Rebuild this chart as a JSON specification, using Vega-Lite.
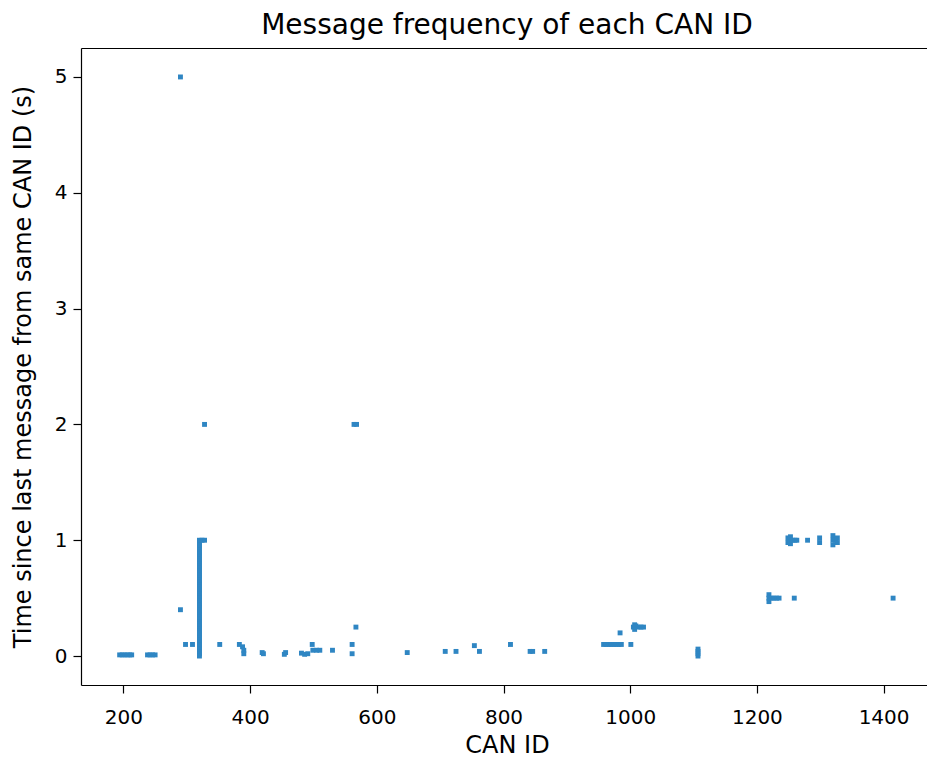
{
  "$schema": "https://vega.github.io/schema/vega-lite/v6.json",
  "autosize": {"type": "none"},
  "padding": {"left": 81, "top": 48, "right": 0, "bottom": 74},
  "width": 852,
  "height": 637,
  "title": {
    "text": "Message frequency of each CAN ID",
    "fontSize": 28,
    "fontWeight": "normal",
    "font": "DejaVu Sans",
    "color": "#000000",
    "anchor": "middle",
    "offset": 8
  },
  "config": {
    "font": "DejaVu Sans",
    "view": {"stroke": null},
    "axis": {
      "domain": true,
      "domainColor": "#000000",
      "domainWidth": 1.2,
      "grid": false,
      "tickColor": "#000000",
      "tickSize": 8,
      "tickWidth": 1.2,
      "labelColor": "#000000",
      "labelFont": "DejaVu Sans",
      "labelFontSize": 20,
      "titleColor": "#000000",
      "titleFont": "DejaVu Sans",
      "titleFontSize": 24,
      "titleFontWeight": "normal"
    }
  },
  "data": {
    "values": [
      {"id": 194, "dt": 0.01}, {"id": 198, "dt": 0.01}, {"id": 202, "dt": 0.01},
      {"id": 206, "dt": 0.01}, {"id": 210, "dt": 0.01}, {"id": 213, "dt": 0.01},
      {"id": 238, "dt": 0.01}, {"id": 242, "dt": 0.01}, {"id": 246, "dt": 0.01}, {"id": 250, "dt": 0.01},
      {"id": 290, "dt": 5.0},
      {"id": 290, "dt": 0.40},
      {"id": 298, "dt": 0.10}, {"id": 309, "dt": 0.10},
      {"id": 320, "dt": 0.0}, {"id": 320, "dt": 0.02}, {"id": 320, "dt": 0.04}, {"id": 320, "dt": 0.06},
      {"id": 320, "dt": 0.08}, {"id": 320, "dt": 0.10}, {"id": 320, "dt": 0.12}, {"id": 320, "dt": 0.14},
      {"id": 320, "dt": 0.16}, {"id": 320, "dt": 0.18}, {"id": 320, "dt": 0.20}, {"id": 320, "dt": 0.22},
      {"id": 320, "dt": 0.24}, {"id": 320, "dt": 0.26}, {"id": 320, "dt": 0.28}, {"id": 320, "dt": 0.30},
      {"id": 320, "dt": 0.32}, {"id": 320, "dt": 0.34}, {"id": 320, "dt": 0.36}, {"id": 320, "dt": 0.38},
      {"id": 320, "dt": 0.40}, {"id": 320, "dt": 0.42}, {"id": 320, "dt": 0.44}, {"id": 320, "dt": 0.46},
      {"id": 320, "dt": 0.48}, {"id": 320, "dt": 0.50}, {"id": 320, "dt": 0.52}, {"id": 320, "dt": 0.54},
      {"id": 320, "dt": 0.56}, {"id": 320, "dt": 0.58}, {"id": 320, "dt": 0.60}, {"id": 320, "dt": 0.62},
      {"id": 320, "dt": 0.64}, {"id": 320, "dt": 0.66}, {"id": 320, "dt": 0.68}, {"id": 320, "dt": 0.70},
      {"id": 320, "dt": 0.72}, {"id": 320, "dt": 0.74}, {"id": 320, "dt": 0.76}, {"id": 320, "dt": 0.78},
      {"id": 320, "dt": 0.80}, {"id": 320, "dt": 0.82}, {"id": 320, "dt": 0.84}, {"id": 320, "dt": 0.86},
      {"id": 320, "dt": 0.88}, {"id": 320, "dt": 0.90}, {"id": 320, "dt": 0.92}, {"id": 320, "dt": 0.94},
      {"id": 320, "dt": 0.96}, {"id": 320, "dt": 0.98}, {"id": 320, "dt": 1.0},
      {"id": 324, "dt": 1.0}, {"id": 328, "dt": 1.0},
      {"id": 328, "dt": 2.0},
      {"id": 352, "dt": 0.10},
      {"id": 383, "dt": 0.10}, {"id": 388, "dt": 0.08}, {"id": 390, "dt": 0.05}, {"id": 390, "dt": 0.02},
      {"id": 419, "dt": 0.03}, {"id": 421, "dt": 0.02},
      {"id": 454, "dt": 0.015}, {"id": 456, "dt": 0.03},
      {"id": 481, "dt": 0.025}, {"id": 486, "dt": 0.015}, {"id": 491, "dt": 0.02},
      {"id": 498, "dt": 0.10}, {"id": 499, "dt": 0.05}, {"id": 505, "dt": 0.05}, {"id": 510, "dt": 0.05},
      {"id": 530, "dt": 0.05},
      {"id": 561, "dt": 0.10}, {"id": 561, "dt": 0.02}, {"id": 567, "dt": 0.25},
      {"id": 564, "dt": 2.0}, {"id": 568, "dt": 2.0},
      {"id": 648, "dt": 0.03},
      {"id": 708, "dt": 0.04}, {"id": 725, "dt": 0.04},
      {"id": 754, "dt": 0.09}, {"id": 762, "dt": 0.04},
      {"id": 811, "dt": 0.10},
      {"id": 842, "dt": 0.04}, {"id": 846, "dt": 0.04},
      {"id": 865, "dt": 0.04},
      {"id": 958, "dt": 0.10}, {"id": 962, "dt": 0.10}, {"id": 966, "dt": 0.10}, {"id": 970, "dt": 0.10},
      {"id": 974, "dt": 0.10}, {"id": 978, "dt": 0.10}, {"id": 982, "dt": 0.10}, {"id": 986, "dt": 0.10},
      {"id": 984, "dt": 0.20},
      {"id": 1001, "dt": 0.10},
      {"id": 1005, "dt": 0.25}, {"id": 1009, "dt": 0.26}, {"id": 1013, "dt": 0.25}, {"id": 1017, "dt": 0.25},
      {"id": 1021, "dt": 0.25}, {"id": 1007, "dt": 0.27}, {"id": 1007, "dt": 0.23},
      {"id": 1107, "dt": 0.0}, {"id": 1107, "dt": 0.02}, {"id": 1107, "dt": 0.04}, {"id": 1107, "dt": 0.06},
      {"id": 1219, "dt": 0.47}, {"id": 1219, "dt": 0.5}, {"id": 1219, "dt": 0.53}, {"id": 1223, "dt": 0.5},
      {"id": 1227, "dt": 0.5}, {"id": 1231, "dt": 0.5}, {"id": 1235, "dt": 0.5},
      {"id": 1259, "dt": 0.5},
      {"id": 1415, "dt": 0.5},
      {"id": 1249, "dt": 0.98}, {"id": 1249, "dt": 1.02}, {"id": 1250, "dt": 1.0}, {"id": 1253, "dt": 1.03},
      {"id": 1253, "dt": 0.97}, {"id": 1256, "dt": 1.0}, {"id": 1260, "dt": 1.0}, {"id": 1263, "dt": 1.0},
      {"id": 1280, "dt": 1.0},
      {"id": 1299, "dt": 0.98}, {"id": 1299, "dt": 1.02},
      {"id": 1320, "dt": 0.96}, {"id": 1320, "dt": 1.0}, {"id": 1320, "dt": 1.04}, {"id": 1324, "dt": 1.0},
      {"id": 1327, "dt": 0.98}, {"id": 1327, "dt": 1.02}
    ]
  },
  "resolve": {"axis": {"x": "independent"}},
  "layer": [
    {
      "mark": {"type": "square", "filled": true, "size": 24, "color": "#2f86c3", "opacity": 1},
      "encoding": {
        "x": {
          "field": "id",
          "type": "quantitative",
          "title": "CAN ID",
          "scale": {"domain": [133, 1478], "nice": false, "zero": false},
          "axis": {"values": [200, 400, 600, 800, 1000, 1200, 1400], "format": "d", "labelPadding": 14, "titlePadding": 6}
        },
        "y": {
          "field": "dt",
          "type": "quantitative",
          "title": "Time since last message from same CAN ID (s)",
          "scale": {"domain": [-0.25, 5.25], "nice": false, "zero": false},
          "axis": {"values": [0, 1, 2, 3, 4, 5], "format": "d", "labelPadding": 6, "titlePadding": 19}
        }
      }
    },
    {
      "mark": {"type": "square", "size": 0, "opacity": 0},
      "encoding": {
        "x": {
          "field": "id",
          "type": "quantitative",
          "axis": {"orient": "top", "labels": false, "ticks": false, "title": null}
        },
        "y": {"field": "dt", "type": "quantitative"}
      }
    }
  ]
}
